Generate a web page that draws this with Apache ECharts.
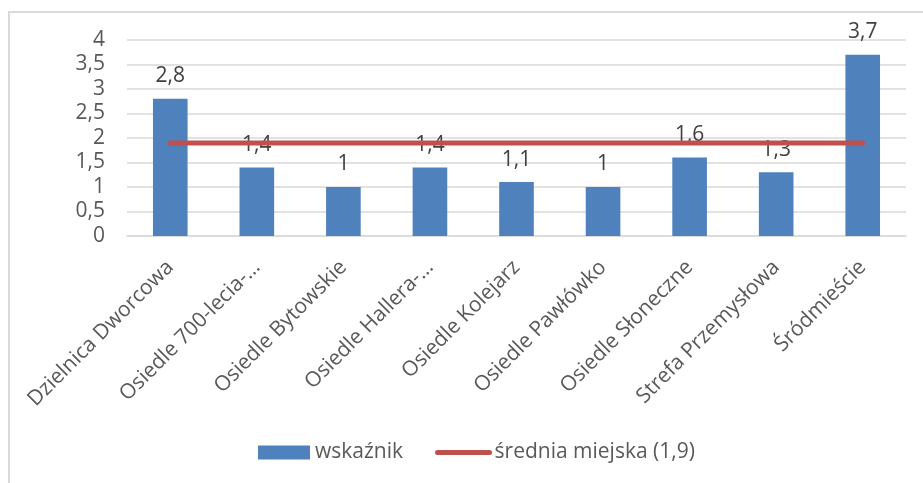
<!DOCTYPE html>
<html>
<head>
<meta charset="utf-8">
<script src="https://cdn.jsdelivr.net/npm/echarts@6/dist/echarts.min.js"></script>
<style>
  html, body { margin: 0; padding: 0; background: #fff; }
  #frame { position: absolute; left: 8px; top: 11px; width: 940px; height: 500px;
           border-left: 2px solid #d9d9d9; border-top: 2px solid #d9d9d9; }
  #chart { position: absolute; left: 0; top: 0; width: 923px; height: 483px; }
</style>
</head>
<body>
<div id="frame"></div>
<div id="chart"></div>
<script>
// dzielnice
const categories = ['Dzielnica Dworcowa', 'Osiedle 700-lecia-…', 'Osiedle Bytowskie', 'Osiedle Hallera-…',
  'Osiedle Kolejarz', 'Osiedle Pawłówko', 'Osiedle Słoneczne', 'Strefa Przemysłowa', 'Śródmieście']
const wskaznik = [2.8, 1.4, 1, 1.4, 1.1, 1, 1.6, 1.3, 3.7]
const srednia = [1.9, 1.9, 1.9, 1.9, 1.9, 1.9, 1.9, 1.9, 1.9]
const yTicks = [0, 0.5, 1, 1.5, 2, 2.5, 3, 3.5, 4]

const FONT = 'Open Sans'
const comma = v => String(v).replace('.', ',')

let myChart = echarts.init(document.getElementById('chart'))
myChart.setOption({
  animation: false,
  textStyle: { fontFamily: FONT },
  grid: { left: 127, right: 17, top: 40, bottom: 247 },
  legend: {
    left: 253, top: 437,
    itemWidth: 52, itemHeight: 14, itemGap: 32,
    textStyle: { fontFamily: FONT, fontSize: 21, color: '#595959' },
    data: [
      { name: 'wskaźnik', icon: 'rect' },
      {
        name: 'średnia miejska (1,9)',
        itemStyle: { color: 'rgba(0,0,0,0)', borderWidth: 0 },
        lineStyle: { color: '#c0504d', width: 5, cap: 'round' }
      }
    ]
  },
  xAxis: {
    type: 'category',
    data: categories,
    axisLine: { lineStyle: { color: '#d9d9d9', width: 1.5 } },
    axisTick: { show: false },
    axisLabel: { rotate: 45, margin: 28, fontSize: 21, color: '#595959', fontFamily: FONT, interval: 0 }
  },
  yAxis: {
    type: 'value',
    min: yTicks[0], max: yTicks[yTicks.length - 1], interval: 0.5,
    axisLine: { show: false },
    axisTick: { show: false },
    splitLine: { lineStyle: { color: '#d9d9d9', width: 1.5 } },
    axisLabel: { formatter: comma, fontSize: 21, color: '#595959', margin: 22, fontFamily: FONT }
  },
  series: [
    {
      name: 'wskaźnik',
      type: 'bar',
      data: wskaznik,
      barWidth: '40%',
      itemStyle: { color: '#4f81bd' },
      label: {
        show: true, position: 'top', distance: 12,
        formatter: p => comma(p.value),
        fontSize: 21, color: '#404040', fontFamily: FONT
      }
    },
    {
      name: 'średnia miejska (1,9)',
      type: 'line',
      data: srednia,
      symbol: 'none',
      lineStyle: { color: '#c0504d', width: 5, cap: 'round' },
      itemStyle: { color: '#c0504d' }
    }
  ]
})
</script>
</body>
</html>
